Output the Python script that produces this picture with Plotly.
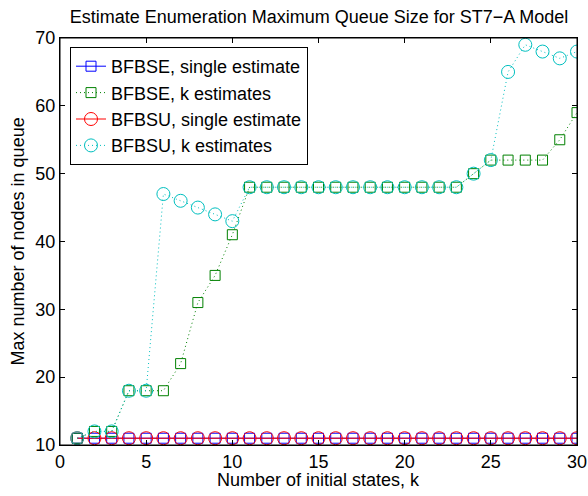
import plotly.graph_objects as go

k = list(range(1, 31))
bfbse_single = [11] * 30
bfbse_k = [11, 12, 12, 18, 18, 18, 22, 31, 35, 41,
           48, 48, 48, 48, 48, 48, 48, 48, 48, 48,
           48, 48, 48, 50, 52, 52, 52, 52, 55, 59]
bfbsu_single = [11] * 30
bfbsu_k = [11, 12, 12, 18, 18, 47, 46, 45, 44, 43,
           48, 48, 48, 48, 48, 48, 48, 48, 48, 48,
           48, 48, 48, 50, 52, 65, 69, 68, 67, 68]

FONT = "Liberation Sans, Arial, Helvetica, sans-serif"
FS = 18
DOT = "1px,3px"

W, H = 588, 496
L, R, T, B = 60, 11, 38, 51
PW, PH = W - L - R, H - T - B

fig = go.Figure()
fig.add_trace(go.Scatter(x=k, y=bfbse_single, name="BFBSE, single estimate",
                         mode="lines+markers",
                         line=dict(color="#0000ff", width=1),
                         marker=dict(symbol="square-open", size=10, color="#0000ff", line=dict(width=1))))
fig.add_trace(go.Scatter(x=k, y=bfbse_k, name="BFBSE, k estimates",
                         mode="lines+markers",
                         line=dict(color="#008000", width=1, dash=DOT),
                         marker=dict(symbol="square-open", size=10, color="#008000", line=dict(width=1))))
fig.add_trace(go.Scatter(x=k, y=bfbsu_single, name="BFBSU, single estimate",
                         mode="lines+markers",
                         line=dict(color="#ff0000", width=1),
                         marker=dict(symbol="circle-open", size=13, color="#ff0000", line=dict(width=1))))
fig.add_trace(go.Scatter(x=k, y=bfbsu_k, name="BFBSU, k estimates",
                         mode="lines+markers",
                         line=dict(color="#00bfbf", width=1, dash=DOT),
                         marker=dict(symbol="circle-open", size=13, color="#00bfbf", line=dict(width=1))))

axis_common = dict(showline=True, linecolor="black", linewidth=1, mirror="ticks",
                   ticks="inside", ticklen=5, tickcolor="black", showgrid=False,
                   zeroline=False, automargin=False,
                   tickfont=dict(size=FS, color="black", family=FONT))

fig.update_xaxes(range=[0, 30], tickmode="array", tickvals=[0, 5, 10, 15, 20, 25, 30],
                 **axis_common)
fig.update_yaxes(range=[10, 70], tickmode="array", tickvals=[10, 20, 30, 40, 50, 60, 70],
                 **axis_common)

fig.add_shape(type="rect", xref="paper", yref="paper", x0=0, y0=0, x1=1, y1=1,
              line=dict(color="black", width=1), layer="above")

fig.add_annotation(text="Number of initial states, k", xref="paper", yref="paper",
                   x=(318 - L) / PW, y=-(480 - (H - B)) / PH, xanchor="center", yanchor="middle",
                   showarrow=False, font=dict(size=FS, color="black", family=FONT))
fig.add_annotation(text="Max number of nodes in queue", xref="paper", yref="paper",
                   x=(17 - L) / PW, y=0.5, xanchor="center", yanchor="middle", textangle=-90,
                   showarrow=False, font=dict(size=FS, color="black", family=FONT))

fig.update_layout(
    width=W, height=H,
    margin=dict(l=L, r=R, t=T, b=B),
    paper_bgcolor="white", plot_bgcolor="white",
    font=dict(family=FONT, size=FS, color="black"),
    title=dict(text="Estimate Enumeration Maximum Queue Size for ST7\u2212A Model",
               x=(319 - L) / PW, xref="paper", xanchor="center", y=1 - 17 / H, yanchor="middle",
               font=dict(size=FS, color="black", family=FONT)),
    legend=dict(x=(70 - L) / PW, y=((H - B) - 47) / PH, xanchor="left", yanchor="top",
                bgcolor="white", bordercolor="black", borderwidth=1,
                font=dict(size=FS, color="black", family=FONT),
                tracegroupgap=0, itemwidth=30),
    showlegend=True,
)

fig.write_html("out.html",
               config={"displayModeBar": False},
               post_script="document.body.style.margin='0';document.body.style.overflow='hidden';")
